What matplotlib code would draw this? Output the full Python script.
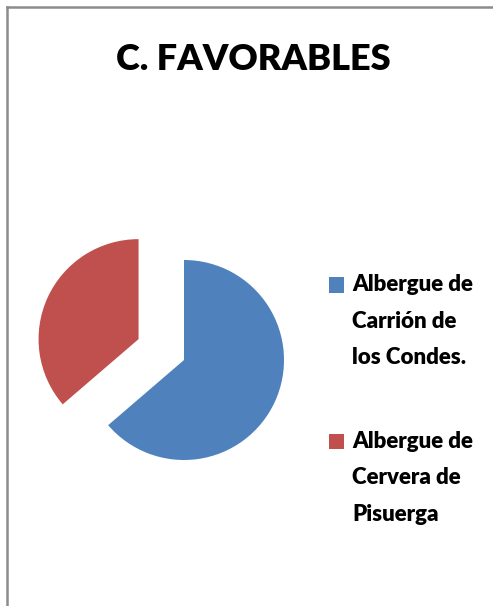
import matplotlib.pyplot as plt
from matplotlib.lines import Line2D
from matplotlib.patches import Rectangle
from matplotlib.legend_handler import HandlerPatch

# Chart data
title = "C. FAVORABLES"
categories = ["Albergue de\nCarrión de\nlos Condes.", "Albergue de\nCervera de\nPisuerga"]
values = [63.7, 36.3]
colors = ["#4F81BD", "#C0504D"]
explode = [0.0, 0.5]

plt.rcParams['font.family'] = ['Lato', 'DejaVu Sans']

W, H = 493, 606
fig = plt.figure(figsize=(W / 100, H / 100), dpi=100)

# gray frame (only top and left edges visible)
fig.add_artist(Line2D([7 / W, 7 / W], [0, 1 - 7 / H], color="#8c8c8c", lw=1.8))
fig.add_artist(Line2D([7 / W, 1], [1 - 7 / H, 1 - 7 / H], color="#8c8c8c", lw=1.8))

fig.text(253 / W, 1 - 60 / H, title, ha="center", va="center",
         fontsize=26, fontweight="heavy")

# pie: centre at (184, 360) px, radius 100 px
ax = fig.add_axes([34 / W, 96 / H, 300 / W, 300 / H])
wedges, _ = ax.pie(values, colors=colors, startangle=90, counterclock=False,
                   explode=explode, radius=1.0)
ax.set_xlim(-1.5, 1.5)
ax.set_ylim(-1.5, 1.5)
ax.set_aspect("equal")
ax.axis("off")


class TopSquare(HandlerPatch):
    # square aligned with the first text line instead of the block centre
    def create_artists(self, legend, orig_handle, xdescent, ydescent,
                       width, height, fontsize, trans):
        s = 11
        p = Rectangle((-xdescent, -ydescent + height / 2 - s / 2 + 26.5), s, s,
                      facecolor=orig_handle.get_facecolor(), edgecolor="none",
                      transform=trans)
        return [p]


leg = fig.legend(wedges, categories, loc="upper left",
                 bbox_to_anchor=(309 / W, 1 - 254 / H), frameon=False,
                 fontsize=16, handler_map={type(wedges[0]): TopSquare()},
                 handlelength=0.7, handletextpad=0.35, labelspacing=2.8)
for t in leg.get_texts():
    t.set_fontweight("heavy")
    t.set_linespacing(1.92)

fig.savefig("out.png", dpi=100)
